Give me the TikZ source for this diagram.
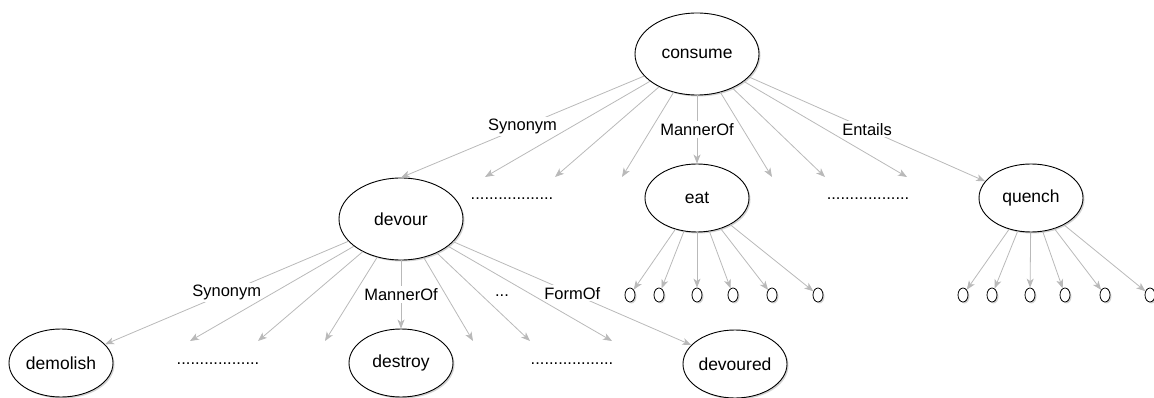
\documentclass[tikz,border=0pt]{standalone}
\usepackage{fontspec}
\setmainfont{Liberation Sans}
\usetikzlibrary{shapes.geometric,shadows,arrows.meta}
\definecolor{linkgray}{RGB}{185,185,185}

\begin{document}
\begin{tikzpicture}[x=1pt, y=-1pt, font=\fontsize{16.5}{19}\selectfont,
    word/.style={ellipse, draw, line width=0.9pt, fill=white, inner sep=0pt,
        font=\fontsize{17.5}{20}\selectfont,
        drop shadow={shadow xshift=1.5pt, shadow yshift=-1.5pt, opacity=0.35}},
    big/.style={word, minimum width=124pt, minimum height=82pt},
    mid/.style={word, minimum width=104pt, minimum height=68pt},
    leaf/.style={word, line width=0.8pt, minimum width=10pt, minimum height=14pt},
    link/.style={draw=linkgray, line width=0.8pt, -{Stealth[length=9pt, width=7pt, inset=2.5pt]}},
    lbl/.style={fill=white, inner sep=2pt},
    dots/.style={inner sep=0pt}]
    \useasboundingbox (0,0) rectangle (1154,398);

    % words
    \node[big] (consume) at (697,54) {consume};
    \node[big] (devour) at (401,219) {devour};
    \node[mid] (eat) at (697,198) {eat};
    \node[mid] (quench) at (1031,198) {quench};
    \node[mid] (demolish) at (61,363) {demolish};
    \node[mid] (destroy) at (401,363) {destroy};
    \node[mid] (devoured) at (735,364) {devoured};

    % elided neighbours
    \node[dots] (more1) at (512,199) {..................};
    \node[dots] (more2) at (868,199) {..................};
    \node[dots] (more3) at (218,364) {..................};
    \node[dots] (more4) at (572,364) {..................};
    \node[dots] (more5) at (502,296) {...};

    % relations of consume
    \draw[link] (consume) -- node[lbl] {Synonym} (devour.north);
    \draw[link] (consume) -- node[lbl] {MannerOf} (eat);
    \draw[link] (consume) -- node[lbl] {Entails} (quench.160);
    \foreach \x [count=\i] in {485,555,622,772,825,907} {
        \coordinate (c\i) at (\x,177);
        \draw[link] (consume) -- (c\i);
    }

    % relations of devour
    \draw[link] (devour) -- node[lbl] {Synonym} (demolish);
    \draw[link] (devour) -- node[lbl] {MannerOf} (destroy);
    \draw[link] (devour) -- node[lbl] {FormOf} (devoured);
    \foreach \x [count=\i] in {190,258,325,473,530,612} {
        \coordinate (v\i) at (\x,341);
        \draw[link] (devour) -- (v\i);
    }

    % leaves below eat and quench
    \foreach \x [count=\i] in {630,659,697,733,772,818} {
        \node[leaf] (e\i) at (\x,295) {};
        \draw[link] (eat) -- (e\i);
    }
    \foreach \x [count=\i] in {963,992,1030,1065,1105,1150} {
        \node[leaf] (q\i) at (\x,295) {};
        \draw[link] (quench) -- (q\i);
    }
\end{tikzpicture}
\end{document}
